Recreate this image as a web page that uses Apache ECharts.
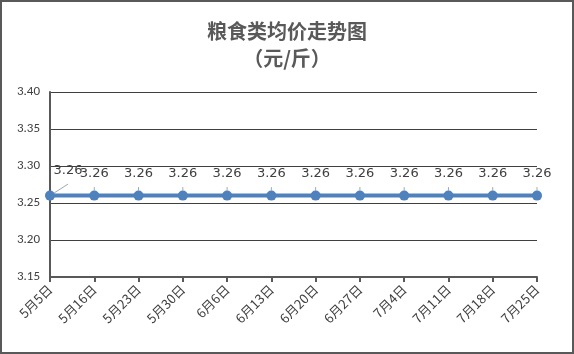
<!DOCTYPE html>
<html>
<head>
<meta charset="utf-8">
<script src="https://cdn.jsdelivr.net/npm/echarts@6/dist/echarts.min.js"></script>
<style>
  html, body { margin: 0; padding: 0; background: #fff; }
  #chart { width: 574px; height: 354px; box-sizing: border-box; border: 2px solid #595959; }
</style>
</head>
<body>
<div id="chart"></div>
<script>
  // 日期与均价
  var dates = ['5月5日', '5月16日', '5月23日', '5月30日', '6月6日', '6月13日', '6月20日', '6月27日', '7月4日', '7月11日', '7月18日', '7月25日']
  var prices = [3.26, 3.26, 3.26, 3.26, 3.26, 3.26, 3.26, 3.26, 3.26, 3.26, 3.26, 3.26]
  var yMin = 3.15
  var yMax = 3.40
  var yStep = 0.05

  var chart = echarts.init(document.getElementById('chart'))
  var cjk = '"Noto Sans CJK SC", sans-serif'

  var seriesData = prices.map(function(v, i) {
    if (i === 0) {
      // 第一个标签偏右上，带引导线
      return { value: v, label: { offset: [18, -3] } }
    }
    return v
  })

  var option = {
    backgroundColor: '#fff',
    animation: false,
    title: {
      text: '粮食类均价走势图\n（元/斤）',
      left: 'center',
      top: 11,
      textStyle: {
        fontFamily: cjk,
        fontSize: 20,
        fontWeight: 'bold',
        color: '#595959',
        lineHeight: 27
      }
    },
    grid: {
      left: 48,
      right: 35,
      top: 90,
      bottom: 75
    },
    xAxis: {
      type: 'category',
      data: dates,
      boundaryGap: false,
      axisLine: { lineStyle: { color: '#595959', width: 2 } },
      axisTick: { alignWithLabel: true, length: 5, lineStyle: { color: '#595959', width: 2 } },
      axisLabel: {
        rotate: 45,
        interval: 0,
        margin: 10,
        color: '#404040',
        fontSize: 13,
        fontFamily: cjk
      }
    },
    yAxis: {
      type: 'value',
      min: yMin,
      max: yMax,
      interval: yStep,
      axisLine: { show: true, lineStyle: { color: '#595959', width: 2 } },
      axisTick: { show: false },
      axisLabel: {
        margin: 10,
        color: '#404040',
        fontSize: 13,
        fontFamily: 'Carlito, "Liberation Sans", sans-serif',
        formatter: function(v) { return v.toFixed(2) }
      },
      splitLine: { lineStyle: { color: '#404040', width: 1 } }
    },
    series: [{
      type: 'line',
      data: seriesData,
      symbol: 'circle',
      symbolSize: 10,
      lineStyle: { color: '#4f81bd', width: 4 },
      itemStyle: { color: '#4f81bd' },
      label: {
        show: true,
        position: 'top',
        distance: 10,
        color: '#404040',
        fontSize: 13,
        fontFamily: '"DejaVu Sans", sans-serif',
        formatter: function(p) { return p.value.toFixed(2) }
      },
      labelLine: { show: true, lineStyle: { color: '#a6a6a6', width: 1 } }
    }]
  }

  chart.setOption(option)
</script>
</body>
</html>
